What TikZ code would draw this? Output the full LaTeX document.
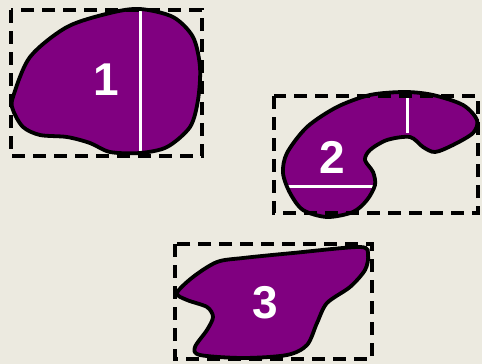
\documentclass[tikz,border=0pt]{standalone}
\usepackage{fontspec}
\newfontfamily\numfont{Liberation Sans}
\usepackage{xcolor}
\definecolor{Bgcolor}{HTML}{ECEAE0}
\definecolor{Pcolor}{HTML}{800080}
\newcommand{\blobOne}{plot[smooth cycle] coordinates {(13,97) (30,57) (67,27) (110,13) (140,9) (173,17) (193,37) (200,67) (198,100) (190,127) (167,147) (140,153) (110,152) (90,143) (67,137) (40,135) (23,127) (13,110)}}
\newcommand{\blobTwo}{plot[smooth cycle] coordinates {(405,92) (433,95) (463,105) (477,120) (473,133) (453,145) (435,152) (423,147) (410,137) (387,140) (370,150) (365,160) (373,172) (375,185) (367,200) (353,212) (327,217) (303,210) (290,193) (283,173) (287,153) (307,127) (337,107) (370,95)}}
\newcommand{\blobThree}{plot[smooth cycle] coordinates {(177,293) (193,277) (217,262) (243,258) (293,253) (360,247) (368,255) (365,270) (350,287) (327,303) (317,323) (307,345) (287,355) (243,358) (200,355) (195,347) (207,330) (213,317) (207,307) (187,300)}}

\begin{document}
\begin{tikzpicture}[x=1pt, y=-1pt,
  blob/.style={fill=Pcolor, draw=black, line width=3.8pt},
  frame/.style={draw=black, line width=3.6pt, dash pattern=on 13pt off 8pt},
  cut/.style={draw=white, line width=3pt},
  num/.style={text=white, font=\numfont\bfseries\fontsize{46}{46}\selectfont},
]
  \fill[Bgcolor] (0,0) rectangle (482,364);
  \useasboundingbox (0,0) rectangle (482,364);

  % shapes
  \fill[Pcolor] \blobOne;
  \fill[Pcolor] \blobTwo;
  \fill[Pcolor] \blobThree;

  % cuts
  \begin{scope}
    \clip \blobOne;
    \draw[cut] (140,0) -- (140,160);
  \end{scope}
  \begin{scope}
    \clip \blobTwo;
    \draw[cut] (407,85) -- (407,133);
    \draw[cut] (280,186) -- (375,186);
  \end{scope}

  \draw[blob, fill=none] \blobOne;
  \draw[blob, fill=none] \blobTwo;
  \draw[blob, fill=none] \blobThree;

  \node[num] (n1) at (106,80) {1};
  \node[num] (n2) at (332,157) {2};
  \node[num] (n3) at (265,303) {3};

  % boxes
  \draw[frame] (11,10) rectangle (202,156);
  \draw[frame] (274,96) rectangle (478,213);
  \draw[frame] (175,244) rectangle (372,359);
\end{tikzpicture}
\end{document}
